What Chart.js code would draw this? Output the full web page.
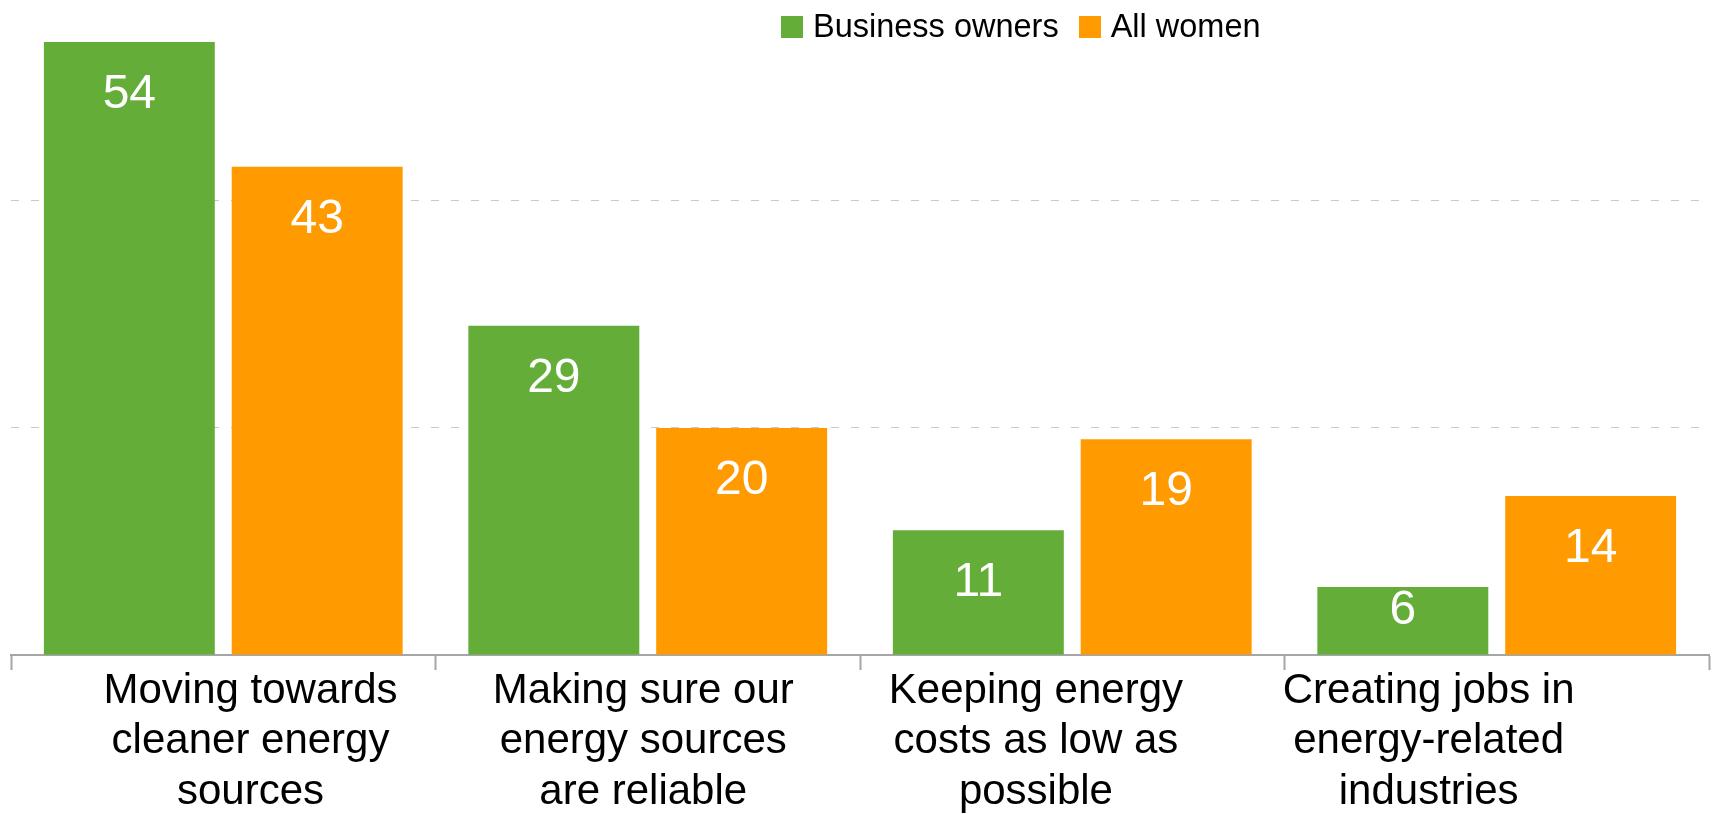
<!DOCTYPE html>
<html>
<head>
<meta charset="utf-8">
<script src="https://cdn.jsdelivr.net/npm/chart.js@4"></script>
<style>
  html, body { margin: 0; padding: 0; background: #fff; overflow: hidden; }
  #wrap { position: relative; width: 1715px; height: 814px; overflow: hidden; }
  #legend {
    position: absolute; left: 781px; top: 8px;
    display: flex; align-items: center;
    font-family: "Liberation Sans", Arial, sans-serif; font-size: 32.5px; color: #000;
  }
  .key { display: flex; align-items: center; margin-right: 20px; }
  .swatch { width: 22px; height: 22px; margin-right: 10px; }
</style>
</head>
<body>
<div id="wrap">
  <canvas id="chart" width="1715" height="840"></canvas>
  <div id="legend"></div>
</div>
<script>
// Category labels, split the way they wrap in the picture
const categories = [
  ['Moving towards', 'cleaner energy', 'sources'],
  ['Making sure our', 'energy sources', 'are reliable'],
  ['Keeping energy', 'costs as low as', 'possible'],
  ['Creating jobs in', 'energy-related', 'industries']
];
const seriesNames = ['Business owners', 'All women'];
const businessOwners = [54, 29, 11, 6];
const allWomen = [43, 20, 19, 14];
const seriesColors = ['#63AD38', '#FF9A00'];
const gridValues = [20, 40];

// The text under the axis sits a bit off the category centres, so it uses its own scale
const labelSlots = [1, 2, 3, 4];
const labelAxisMin = 0.39;
const labelAxisMax = 4.714;

const FONT = '"Liberation Sans", Arial, sans-serif';

// html legend, sits on top of the plot like in the original
const legendEl = document.getElementById('legend');
seriesNames.forEach((name, i) => {
  const key = document.createElement('div');
  key.className = 'key';
  key.innerHTML = '<span class="swatch" style="background:' + seriesColors[i] + '"></span><span>' + name + '</span>';
  legendEl.appendChild(key);
});

// white value labels inside the top of each bar
const barValueLabels = {
  id: 'barValueLabels',
  afterDatasetsDraw(chart) {
    const ctx = chart.ctx;
    ctx.save();
    ctx.font = '48px ' + FONT;
    ctx.fillStyle = '#fff';
    ctx.textAlign = 'center';
    ctx.textBaseline = 'alphabetic';
    chart.data.datasets.forEach((ds, i) => {
      chart.getDatasetMeta(i).data.forEach((bar, j) => {
        const h = bar.base - bar.y;
        const top = h > 80 ? bar.y + 31 : bar.y + 2; // short bars: label hugs the top
        ctx.fillText(ds.data[j], bar.x, top + 35);
      });
    });
    ctx.restore();
  }
};

const ctx = document.getElementById('chart').getContext('2d');
window.myChart = new Chart(ctx, {
  type: 'bar',
  data: {
    labels: categories.map(c => c.join(' ')),
    datasets: [
      { label: seriesNames[0], data: businessOwners, backgroundColor: seriesColors[0] },
      { label: seriesNames[1], data: allWomen, backgroundColor: seriesColors[1] }
    ]
  },
  options: {
    responsive: false,
    animation: false,
    devicePixelRatio: 1,
    categoryPercentage: 0.885,
    barPercentage: 0.91,
    layout: { padding: { left: 11, right: 6, top: 0, bottom: 0 } },
    plugins: {
      legend: { display: false },
      tooltip: { enabled: false }
    },
    scales: {
      x: {
        type: 'category',
        position: 'bottom',
        weight: 0,
        ticks: { display: false },
        grid: {
          display: true, drawOnChartArea: false, offset: true,
          tickLength: 15, tickColor: '#A6A6A6', tickWidth: 2, color: '#A6A6A6'
        },
        border: { display: true, color: '#A6A6A6', width: 2 },
        afterFit: (s) => { s.height = 15; }
      },
      x2: {
        type: 'linear',
        position: 'bottom',
        weight: 1,
        bounds: 'data',
        offset: false,
        min: labelAxisMin,
        max: labelAxisMax,
        afterBuildTicks: (s) => { s.ticks = labelSlots.map(v => ({ value: v })); },
        ticks: {
          autoSkip: false, maxRotation: 0, minRotation: 0, padding: -4,
          color: '#000',
          font: { family: FONT, size: 42, lineHeight: 1.2 },
          callback: (v, i) => categories[i]
        },
        grid: { display: false, drawTicks: false, offset: false },
        border: { display: false },
        afterFit: (s) => { s.height = 170; }
      },
      y: {
        min: 0,
        max: 57.7,
        ticks: { display: false, stepSize: 20 },
        grid: {
          drawTicks: false,
          lineWidth: 1,
          color: (c) => (c.tick && gridValues.includes(c.tick.value)) ? '#C8C8C8' : 'rgba(0,0,0,0)'
        },
        border: { display: false, dash: [8, 12] },
        afterFit: (s) => { s.width = 0; }
      }
    }
  },
  plugins: [barValueLabels]
});
</script>
</body>
</html>
